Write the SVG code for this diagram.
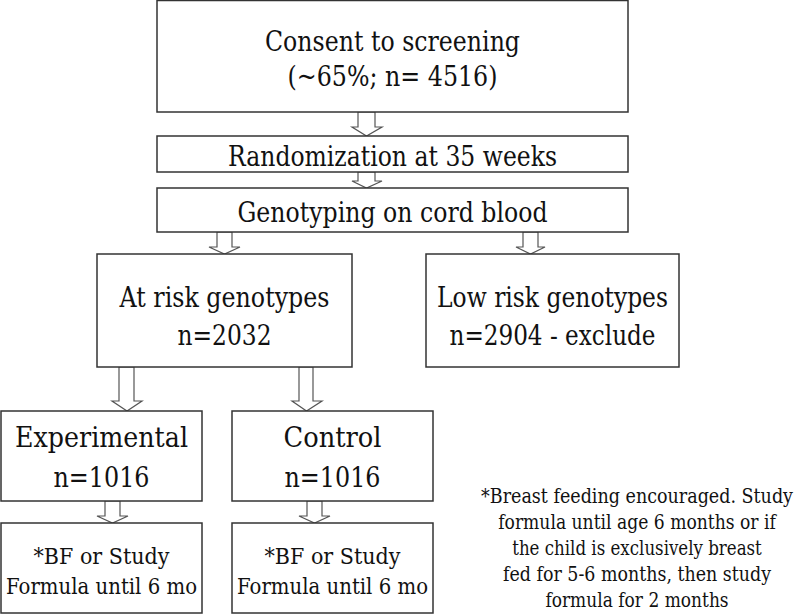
<svg xmlns="http://www.w3.org/2000/svg" width="800" height="614" viewBox="0 0 800 614">
<style>
.box{fill:#fff;stroke:#333;stroke-width:1.5}
.arr{fill:#fff;stroke:#555;stroke-width:1.2;stroke-linejoin:miter}
.lbl text{fill:#111;text-anchor:middle;font-family:'DejaVu Serif',serif}
.t30{font-size:27px}
.t32{font-size:28px}
.t26{font-size:23px}
.t23{font-size:20px}
</style>
<rect width="800" height="614" fill="#fff"/>
<g id="connectors">
<polygon class="arr" points="358,112 375,112 375,127 382,127 366.5,136 352,127 358,127"/>
<polygon class="arr" points="358,172 375,172 375,181 382,181 366.5,188 352,181 358,181"/>
<polygon class="arr" points="217,232 232,232 232,247 240,247 224.5,254 209,247 217,247"/>
<polygon class="arr" points="523,232 538,232 538,247 545,247 530.5,254 516,247 523,247"/>
<polygon class="arr" points="119,367 134,367 134,401 142,401 127,411 112,401 119,401"/>
<polygon class="arr" points="299,367 313,367 313,401 322,401 306.5,411 292,401 299,401"/>
<polygon class="arr" points="105,501 120,501 120,516 128,516 112.5,523 97,516 105,516"/>
<polygon class="arr" points="307,501 322,501 322,516 330,516 314.5,523 299,516 307,516"/>
</g>
<g class="lbl">
<g id="consent">
<rect class="box" x="157" y="0.5" width="471" height="111.5"/>
<text class="t30" x="392.5" y="51" textLength="255" lengthAdjust="spacingAndGlyphs">Consent to screening</text>
<text class="t30" x="392.5" y="86" textLength="210" lengthAdjust="spacingAndGlyphs">(~65%; n= 4516)</text>
</g>
<g id="randomization">
<rect class="box" x="157" y="136" width="471" height="36"/>
<text class="t30" x="392.5" y="166" textLength="329" lengthAdjust="spacingAndGlyphs">Randomization at 35 weeks</text>
</g>
<g id="genotyping">
<rect class="box" x="157" y="188" width="471" height="44"/>
<text class="t30" x="392.5" y="222" textLength="310" lengthAdjust="spacingAndGlyphs">Genotyping on cord blood</text>
</g>
<g id="atrisk">
<rect class="box" x="97" y="254" width="255" height="113"/>
<text class="t30" x="224.5" y="307" textLength="210" lengthAdjust="spacingAndGlyphs">At risk genotypes</text>
<text class="t30" x="224.5" y="345" textLength="94" lengthAdjust="spacingAndGlyphs">n=2032</text>
</g>
<g id="lowrisk">
<rect class="box" x="426" y="254" width="253" height="113"/>
<text class="t30" x="552.5" y="307" textLength="231" lengthAdjust="spacingAndGlyphs">Low risk genotypes</text>
<text class="t30" x="552.5" y="345" textLength="206" lengthAdjust="spacingAndGlyphs">n=2904 - exclude</text>
</g>
<g id="experimental">
<rect class="box" x="1" y="411" width="201" height="90"/>
<text class="t32" x="101.5" y="447" textLength="173" lengthAdjust="spacingAndGlyphs">Experimental</text>
<text class="t32" x="101.5" y="487" textLength="96" lengthAdjust="spacingAndGlyphs">n=1016</text>
</g>
<g id="control">
<rect class="box" x="232" y="411" width="201" height="90"/>
<text class="t32" x="332.5" y="447" textLength="98" lengthAdjust="spacingAndGlyphs">Control</text>
<text class="t32" x="332.5" y="487" textLength="96" lengthAdjust="spacingAndGlyphs">n=1016</text>
</g>
<g id="bf-exp">
<rect class="box" x="1" y="523" width="201" height="90"/>
<text class="t26" x="101.5" y="564" textLength="136" lengthAdjust="spacingAndGlyphs">*BF or Study</text>
<text class="t26" x="101.5" y="594" textLength="191" lengthAdjust="spacingAndGlyphs">Formula until 6 mo</text>
</g>
<g id="bf-ctrl">
<rect class="box" x="232" y="523" width="201" height="90"/>
<text class="t26" x="332.5" y="564" textLength="136" lengthAdjust="spacingAndGlyphs">*BF or Study</text>
<text class="t26" x="332.5" y="594" textLength="191" lengthAdjust="spacingAndGlyphs">Formula until 6 mo</text>
</g>
<g id="footnote" transform="translate(637,0) scale(0.8,1)">
<text class="t23" x="0" y="503" textLength="390" lengthAdjust="spacingAndGlyphs">*Breast feeding encouraged. Study</text>
<text class="t23" x="0" y="529" textLength="347" lengthAdjust="spacingAndGlyphs">formula until age 6 months or if</text>
<text class="t23" x="0" y="555" textLength="312" lengthAdjust="spacingAndGlyphs">the child is exclusively breast</text>
<text class="t23" x="0" y="581" textLength="335" lengthAdjust="spacingAndGlyphs">fed for 5-6 months, then study</text>
<text class="t23" x="0" y="607" textLength="229" lengthAdjust="spacingAndGlyphs">formula for 2 months</text>
</g>
</g>
</svg>
